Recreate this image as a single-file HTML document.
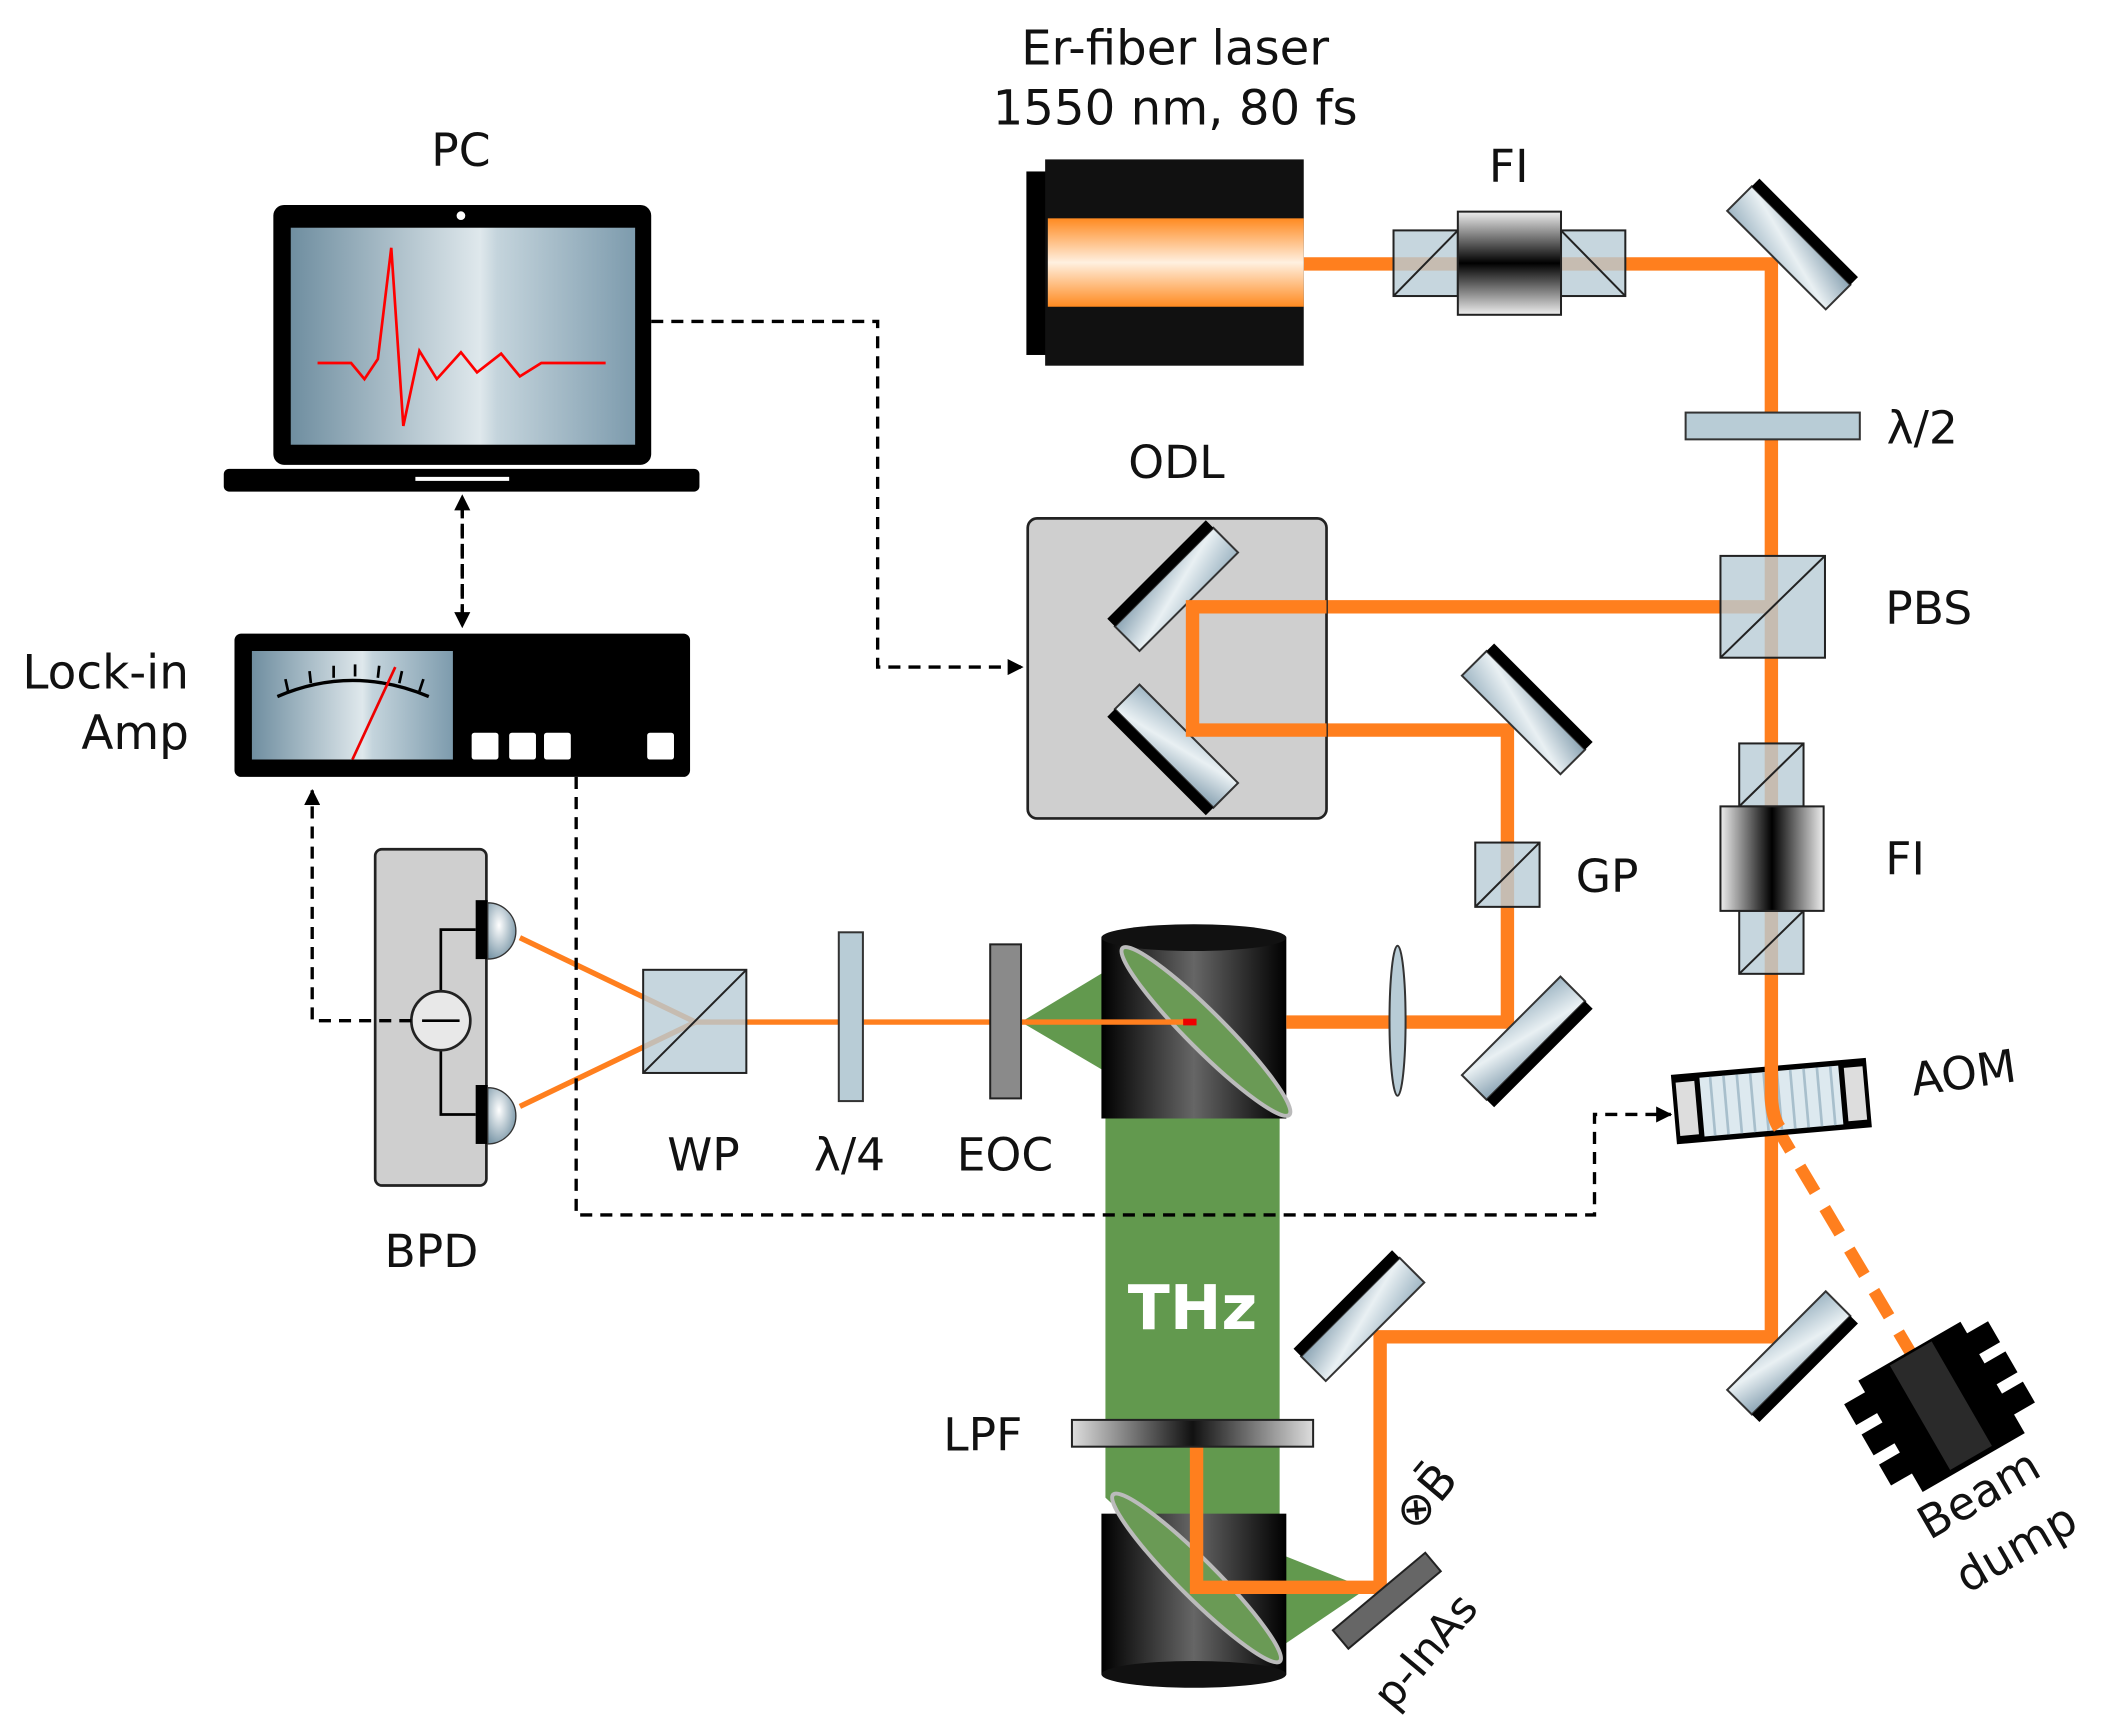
<!DOCTYPE html>
<html><head><meta charset="utf-8"><style>
html,body{margin:0;padding:0;background:#fff;}
svg{display:block;}
text{font-family:"DejaVu Sans","Liberation Sans",sans-serif;fill:#111;}
</style></head><body>
<svg width="2101" height="1732" viewBox="0 0 1568 1293" preserveAspectRatio="none" xmlns="http://www.w3.org/2000/svg">
<defs>
<linearGradient id="mg" x1="0" y1="0" x2="1" y2="1"><stop offset="0" stop-color="#9fb6c4"/><stop offset="0.5" stop-color="#e9f0f3"/><stop offset="1" stop-color="#8aa3b3"/></linearGradient>
<linearGradient id="scr" x1="0" y1="0" x2="1" y2="0"><stop offset="0" stop-color="#6f8ea0"/><stop offset="0.55" stop-color="#dfe8ec"/><stop offset="0.6" stop-color="#c4d4dc"/><stop offset="1" stop-color="#7d9bad"/></linearGradient>
<linearGradient id="las" x1="0" y1="0" x2="0" y2="1"><stop offset="0" stop-color="#ff8a20"/><stop offset="0.5" stop-color="#fff0e0"/><stop offset="1" stop-color="#ff8a20"/></linearGradient>
<linearGradient id="fi" x1="0" y1="0" x2="0" y2="1"><stop offset="0" stop-color="#eee"/><stop offset="0.5" stop-color="#000"/><stop offset="1" stop-color="#eee"/></linearGradient>
<linearGradient id="fiv" x1="0" y1="0" x2="1" y2="0"><stop offset="0" stop-color="#eee"/><stop offset="0.5" stop-color="#000"/><stop offset="1" stop-color="#eee"/></linearGradient>
<linearGradient id="cyl" x1="0" y1="0" x2="1" y2="0"><stop offset="0" stop-color="#000"/><stop offset="0.5" stop-color="#666"/><stop offset="1" stop-color="#000"/></linearGradient>
<linearGradient id="lpf" x1="0" y1="0" x2="1" y2="0"><stop offset="0" stop-color="#ddd"/><stop offset="0.5" stop-color="#111"/><stop offset="1" stop-color="#ddd"/></linearGradient>
<radialGradient id="dome" cx="0.4" cy="0.4" r="0.7"><stop offset="0" stop-color="#fff"/><stop offset="1" stop-color="#6f8ea0"/></radialGradient>
<g id="mir"><rect x="-13" y="-52" width="26" height="104" fill="url(#mg)" stroke="#333" stroke-width="1.5"/><rect x="13" y="-52" width="8" height="104" fill="#000"/></g>
<marker id="ah" markerWidth="12" markerHeight="12" refX="11" refY="6" orient="auto" markerUnits="userSpaceOnUse" viewBox="0 0 12 12"><path d="M0,0 L12,6 L0,12 z" fill="#000"/></marker>
</defs>

<!-- green THz -->
<polygon points="762,763 830,722 955,830 955,1160 1020,1186 958,1228 870,1160 825,1118 825,800" fill="#5a9445" opacity="0.95"/>

<!-- parabolic mirrors -->
<rect x="822" y="700" width="138" height="135" fill="url(#cyl)"/>
<ellipse cx="891" cy="700" rx="69" ry="10" fill="#111"/>
<ellipse cx="900" cy="770" rx="88" ry="14" transform="rotate(45 900 770)" fill="#6a9a55" stroke="#bbb" stroke-width="3"/>
<rect x="822" y="1130" width="138" height="120" fill="url(#cyl)"/>
<ellipse cx="891" cy="1250" rx="69" ry="10" fill="#111"/>
<ellipse cx="893" cy="1178" rx="88" ry="14" transform="rotate(45 893 1178)" fill="#6a9a55" stroke="#bbb" stroke-width="3"/>
<text x="890" y="992" font-size="46" font-weight="bold" text-anchor="middle" style="fill:#fff">THz</text>

<!-- orange beams -->
<g stroke="#ff7f1e" stroke-width="10" fill="none" stroke-linejoin="miter">
<polyline points="973,197 1322,197 1322,998 1030,998 1030,1185 893,1185 893,1075"/>
<polyline points="1322,453 890,453 890,545 1125,545 1125,763 960,763"/>
<polyline points="1325,840 1432,1020" stroke-dasharray="22,14" stroke-width="9"/>
</g>
<g stroke="#ff7f1e" stroke-width="4" fill="none">
<line x1="519" y1="763" x2="885" y2="763"/>
<line x1="519" y1="763" x2="388" y2="700"/>
<line x1="519" y1="763" x2="388" y2="826"/>
</g>
<line x1="883" y1="763" x2="893" y2="763" stroke="#e00" stroke-width="5"/>

<!-- laser -->
<rect x="766" y="128" width="16" height="137" fill="#000"/>
<rect x="780" y="119" width="193" height="154" fill="#111"/>
<rect x="782" y="163" width="191" height="66" fill="url(#las)"/>
<text x="877" y="48" font-size="36" text-anchor="middle">Er-fiber laser</text>
<text x="877" y="93" font-size="36" text-anchor="middle">1550 nm, 80 fs</text>

<!-- FI top -->
<g stroke="#222" stroke-width="1.5">
<rect x="1040" y="172" width="48" height="49" fill="#b8ccd6" fill-opacity="0.8"/><line x1="1040" y1="221" x2="1088" y2="172"/>
<rect x="1165" y="172" width="48" height="49" fill="#b8ccd6" fill-opacity="0.8"/><line x1="1165" y1="172" x2="1213" y2="221"/>
<rect x="1088" y="158" width="77" height="77" fill="url(#fi)"/>
</g>
<text x="1126" y="136" font-size="34" text-anchor="middle">FI</text>

<!-- mirrors -->
<use href="#mir" transform="translate(1335,185) rotate(-45)"/>
<use href="#mir" transform="translate(1137,532) rotate(-45)"/>
<use href="#mir" transform="translate(1137,775) rotate(45)"/>
<use href="#mir" transform="translate(1335,1010) rotate(45)"/>
<use href="#mir" transform="translate(1017,985) rotate(45) scale(-1,1)"/>

<!-- ODL -->
<rect x="767" y="387" width="223" height="224" rx="7" fill="#cfcfcf" stroke="#222" stroke-width="2"/>
<use href="#mir" transform="translate(878,440) rotate(45) scale(-1,1)"/>
<use href="#mir" transform="translate(878,557) rotate(-45) scale(-1,1)"/>
<polyline points="990,453 890,453 890,545 990,545" stroke="#ff7f1e" stroke-width="10" fill="none"/>
<text x="878" y="357" font-size="34" text-anchor="middle">ODL</text>

<!-- λ/2 -->
<rect x="1258" y="308" width="130" height="20" fill="#b8ccd6" stroke="#333" stroke-width="1.5"/>
<text x="1408" y="331" font-size="34">λ/2</text>
<!-- PBS -->
<rect x="1284" y="415" width="78" height="76" fill="#b8ccd6" fill-opacity="0.8" stroke="#222" stroke-width="1.5"/>
<line x1="1284" y1="491" x2="1362" y2="415" stroke="#222" stroke-width="1.5"/>
<text x="1407" y="466" font-size="34">PBS</text>
<!-- FI lower -->
<g stroke="#222" stroke-width="1.5">
<rect x="1298" y="555" width="48" height="47" fill="#b8ccd6" fill-opacity="0.8"/><line x1="1298" y1="602" x2="1346" y2="555"/>
<rect x="1298" y="680" width="48" height="47" fill="#b8ccd6" fill-opacity="0.8"/><line x1="1298" y1="727" x2="1346" y2="680"/>
<rect x="1284" y="602" width="77" height="78" fill="url(#fiv)"/>
</g>
<text x="1407" y="653" font-size="34">FI</text>
<!-- GP -->
<rect x="1101" y="629" width="48" height="48" fill="#b8ccd6" fill-opacity="0.8" stroke="#222" stroke-width="1.5"/>
<line x1="1101" y1="677" x2="1149" y2="629" stroke="#222" stroke-width="1.5"/>
<text x="1176" y="666" font-size="34">GP</text>
<!-- lens -->
<ellipse cx="1043" cy="762" rx="6" ry="56" fill="#b8ccd6" stroke="#333" stroke-width="1.5"/>

<!-- AOM -->
<g transform="translate(1322,822) rotate(-5)">
<rect x="-73" y="-26" width="146" height="52" fill="#000"/>
<rect x="-70" y="-20" width="14" height="40" fill="#ddd"/>
<rect x="56" y="-20" width="14" height="40" fill="#ddd"/>
<rect x="-52" y="-22" width="104" height="44" fill="#dde9ef"/>
<g stroke="#a8bfcc" stroke-width="2"><line x1="-44" y1="-22" x2="-44" y2="22"/><line x1="-34" y1="-22" x2="-34" y2="22"/><line x1="-24" y1="-22" x2="-24" y2="22"/><line x1="-14" y1="-22" x2="-14" y2="22"/><line x1="-4" y1="-22" x2="-4" y2="22"/><line x1="6" y1="-22" x2="6" y2="22"/><line x1="16" y1="-22" x2="16" y2="22"/><line x1="26" y1="-22" x2="26" y2="22"/><line x1="36" y1="-22" x2="36" y2="22"/><line x1="46" y1="-22" x2="46" y2="22"/></g>
</g>
<path d="M1322,795 L1322,820 Q1323,835 1328,842" stroke="#ff7f1e" stroke-width="10" fill="none"/>
<text x="1428" y="818" font-size="34" transform="rotate(-8 1428 818)">AOM</text>

<!-- beam dump -->
<g transform="translate(1450,1052) rotate(-30)">
<rect x="-62" y="-40" width="124" height="18" fill="#000"/>
<rect x="-62" y="-14" width="124" height="18" fill="#000"/>
<rect x="-62" y="12" width="124" height="18" fill="#000"/>
<rect x="-44" y="-50" width="88" height="96" fill="#000"/>
<rect x="-18" y="-48" width="36" height="90" fill="#777" opacity="0.35"/>
</g>
<text x="1440" y="1150" font-size="34" transform="rotate(-30 1440 1150)">Beam</text>
<text x="1468" y="1190" font-size="34" transform="rotate(-30 1468 1190)">dump</text>

<!-- p-InAs -->
<rect x="-45" y="-9" width="90" height="18" fill="#666" stroke="#222" stroke-width="1.5" transform="translate(1035,1195) rotate(-40)"/>
<text x="1040" y="1278" font-size="32" transform="rotate(-50 1040 1278)">p-InAs</text>
<text x="1056" y="1145" font-size="34" transform="rotate(-50 1056 1145)">⊗B̄</text>

<!-- LPF -->
<rect x="800" y="1060" width="180" height="20" fill="url(#lpf)" stroke="#222" stroke-width="1.5"/>
<text x="704" y="1083" font-size="34">LPF</text>

<!-- EOC, λ/4, WP -->
<rect x="739" y="705" width="23" height="115" fill="#8a8a8a" stroke="#222" stroke-width="1.5"/>
<text x="750" y="874" font-size="34" text-anchor="middle">EOC</text>
<rect x="626" y="696" width="18" height="126" fill="#b8ccd6" stroke="#333" stroke-width="1.5"/>
<text x="634" y="874" font-size="34" text-anchor="middle">λ/4</text>
<rect x="480" y="724" width="77" height="77" fill="#b8ccd6" fill-opacity="0.8" stroke="#222" stroke-width="1.5"/>
<line x1="480" y1="801" x2="557" y2="724" stroke="#222" stroke-width="1.5"/>
<text x="525" y="874" font-size="34" text-anchor="middle">WP</text>

<!-- BPD -->
<rect x="280" y="634" width="83" height="251" rx="5" fill="#cfcfcf" stroke="#222" stroke-width="2"/>
<polyline points="355,694 329,694 329,832 355,832" fill="none" stroke="#000" stroke-width="2"/>
<rect x="355" y="672" width="9" height="44" fill="#000"/>
<rect x="355" y="810" width="9" height="44" fill="#000"/>
<path d="M364,674 A21,21 0 0 1 364,716 Z" fill="url(#dome)" stroke="#333"/>
<path d="M364,812 A21,21 0 0 1 364,854 Z" fill="url(#dome)" stroke="#333"/>
<circle cx="329" cy="762" r="22" fill="#e8e8e8" stroke="#222" stroke-width="2"/>
<line x1="315" y1="762" x2="343" y2="762" stroke="#000" stroke-width="2"/>
<text x="322" y="946" font-size="34" text-anchor="middle">BPD</text>

<!-- dashed connections -->
<g stroke="#000" stroke-width="2.5" fill="none" stroke-dasharray="9,6">
<polyline points="307,762 233,762 233,590" marker-end="url(#ah)"/>
<polyline points="486,240 655,240 655,498 763,498" marker-end="url(#ah)"/>
<polyline points="430,580 430,907 1190,907 1190,832 1247,832" marker-end="url(#ah)"/>
<line x1="345" y1="378" x2="345" y2="468" marker-end="url(#ah)"/>
<line x1="345" y1="460" x2="345" y2="370" marker-end="url(#ah)"/>
</g>

<!-- Lock-in -->
<rect x="175" y="473" width="340" height="107" rx="5" fill="#000"/>
<rect x="188" y="486" width="150" height="81" fill="url(#scr)"/>
<path d="M207,520 Q263,496 320,520" fill="none" stroke="#000" stroke-width="2.5"/>
<g stroke="#000" stroke-width="2"><line x1="215" y1="516" x2="213" y2="507"/><line x1="232" y1="510" x2="231" y2="501"/><line x1="249" y1="506" x2="249" y2="497"/><line x1="265" y1="505" x2="265" y2="496"/><line x1="282" y1="506" x2="283" y2="497"/><line x1="298" y1="510" x2="300" y2="501"/><line x1="313" y1="516" x2="316" y2="507"/></g>
<line x1="263" y1="567" x2="295" y2="498" stroke="#e00" stroke-width="2"/>
<g fill="#fff"><rect x="352" y="547" width="20" height="20" rx="2"/><rect x="380" y="547" width="20" height="20" rx="2"/><rect x="406" y="547" width="20" height="20" rx="2"/><rect x="483" y="547" width="20" height="20" rx="2"/></g>
<text x="141" y="514" font-size="35" text-anchor="end">Lock-in</text>
<text x="141" y="559" font-size="35" text-anchor="end">Amp</text>

<!-- PC -->
<rect x="204" y="153" width="282" height="194" rx="8" fill="#000"/>
<rect x="217" y="170" width="257" height="162" fill="url(#scr)"/>
<circle cx="344" cy="161" r="4" fill="#fff" stroke="#000" stroke-width="1.5"/>
<rect x="167" y="350" width="355" height="17" rx="4" fill="#000"/>
<rect x="310" y="356" width="70" height="3" fill="#fff"/>
<polyline points="237,271 262,271 272,283 282,268 292,185 301,318 313,262 326,283 344,263 356,278 374,264 388,281 404,271 452,271" fill="none" stroke="#f00" stroke-width="2"/>
<text x="344" y="124" font-size="34" text-anchor="middle">PC</text>
</svg>
</body></html>
